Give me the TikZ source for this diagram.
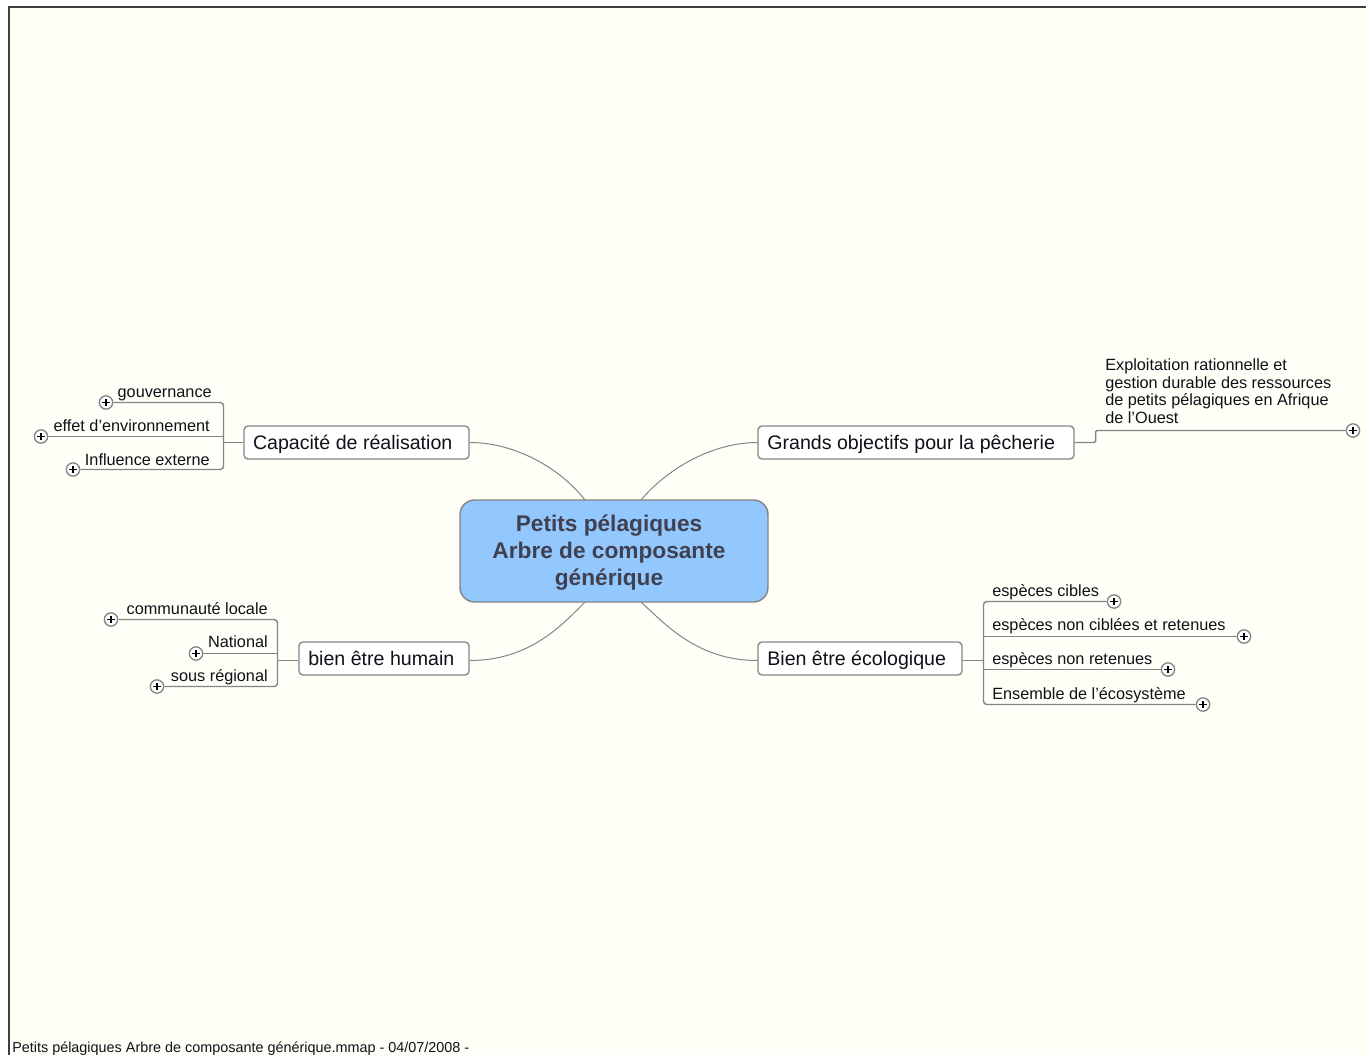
\documentclass[tikz,border=0pt]{standalone}
\usepackage{fontspec}
\setmainfont{Liberation Sans}
\definecolor{paper}{HTML}{FFFFF8}
\definecolor{framec}{HTML}{404040}
\definecolor{linkc}{HTML}{858585}
\definecolor{hubfill}{HTML}{93C8FF}
\definecolor{hubtext}{HTML}{404050}
\definecolor{inkc}{HTML}{101018}
\tikzset{
  x=0.75pt,y=-0.75pt,
  hubbox/.style={draw=linkc,line width=1.1pt,fill=hubfill,rounded corners=11pt,text=hubtext,
    minimum width=231pt,minimum height=76.5pt,inner sep=0pt,
    font=\fontsize{17}{20.6}\selectfont\bfseries},
  branchbox/.style={draw=linkc,line width=1pt,fill=white,rounded corners=3pt,text=inkc,
    minimum height=24.75pt,inner ysep=0pt,inner xsep=0pt,text height=13.4pt,text depth=3pt,
    font=\fontsize{14.7}{17}\selectfont},
  leaftext/.style={inner sep=0pt,text=inkc,font=\fontsize{12.2}{13.4}\selectfont},
  lnk/.style={draw=linkc,line width=1.1pt,rounded corners=2.5pt},
  curvelnk/.style={draw=linkc,line width=0.75pt},
  plusnode/.style={circle,draw=linkc,line width=1pt,fill=white,minimum size=10pt,inner sep=0pt,
    path picture={\draw[black,line width=1pt]
      ([xshift=-2.8pt]path picture bounding box.center)--([xshift=2.8pt]path picture bounding box.center)
      ([yshift=-2.8pt]path picture bounding box.center)--([yshift=2.8pt]path picture bounding box.center);}},
}
\begin{document}
\begin{tikzpicture}
\useasboundingbox (0,0) rectangle (1366,1055);
\fill[white] (0,0) rectangle (1366,1055);
\fill[paper] (9,7) rectangle (1366,1055);
\draw[framec,line width=1.5pt] (9,1055) -- (9,7) -- (1366,7);

% hub
\node[hubbox] (hub) at (614,551) {\begin{tabular}{@{}c@{}}\rule{0pt}{17.4pt}Petits pélagiques\\Arbre de composante\\générique\end{tabular}\hspace*{7.5pt}};

% branches
\node[branchbox,minimum width=168.75pt] (cap) at (356.5,442.5) {\makebox[168.75pt][l]{\hspace{6.75pt}Capacité de réalisation}};
\node[branchbox,minimum width=237pt] (obj) at (916,442.5) {\makebox[237pt][l]{\hspace{7pt}Grands objectifs pour la pêcherie}};
\node[branchbox,minimum width=127.5pt] (hum) at (384,658.5) {\makebox[127.5pt][l]{\hspace{7pt}bien être humain}};
\node[branchbox,minimum width=153pt] (eco) at (860,658.5) {\makebox[153pt][l]{\hspace{7pt}Bien être écologique}};

% hub connectors
\coordinate (hubNW) at (585,500);
\coordinate (hubNE) at (641,500);
\coordinate (hubSW) at (585,602);
\coordinate (hubSE) at (641,602);
\draw[curvelnk] (cap.east) .. controls (515,442.5) and (560,468) .. (hubNW);
\draw[curvelnk] (obj.west) .. controls (713,442.5) and (668,468) .. (hubNE);
\draw[curvelnk] (hum.east |- 0,660.5) .. controls (530,660.5) and (562,625) .. (hubSW);
\draw[curvelnk] (eco.west |- 0,660.5) .. controls (698,660.5) and (666,625) .. (hubSE);

% Capacité leaves
\node[leaftext,anchor=base east] (gouv) at (212,397) {gouvernance};
\node[leaftext,anchor=base east] (effet) at (210,431) {effet d'environnement};
\node[leaftext,anchor=base east] (infl) at (210,465) {Influence externe};
\node[plusnode] (pgouv) at (106,402.5) {};
\node[plusnode] (peffet) at (41,436.5) {};
\node[plusnode] (pinfl) at (73,469.5) {};
\coordinate (capj) at (223.5,442.5);
\draw[lnk] (pgouv.east) -- (223.5,402.5) -- (223.5,469.5) -- (pinfl.east);
\draw[lnk] (peffet.east) -- (223.5,436.5);
\draw[lnk] (cap.west) -- (capj);

% humain leaves
\node[leaftext,anchor=base east] (comm) at (268,614) {communauté locale};
\node[leaftext,anchor=base east] (nat) at (268,647) {National};
\node[leaftext,anchor=base east] (sous) at (268,681) {sous régional};
\node[plusnode] (pcomm) at (111,619.5) {};
\node[plusnode] (pnat) at (196,653.5) {};
\node[plusnode] (psous) at (157,686.5) {};
\coordinate (humj) at (277.5,660.5);
\draw[lnk] (pcomm.east) -- (277.5,619.5) -- (277.5,686.5) -- (psous.east);
\draw[lnk] (pnat.east) -- (277.5,653.5);
\draw[lnk] (hum.west |- humj) -- (humj);

% objectifs leaf
\node[leaftext,anchor=base west,align=left] (expl) at (1105,370) {Exploitation rationnelle et};
\node[leaftext,anchor=base west] (expl2) at (1105,388) {gestion durable des ressources};
\node[leaftext,anchor=base west] (expl3) at (1105,405.5) {de petits pélagiques en Afrique};
\node[leaftext,anchor=base west] (expl4) at (1105,423) {de l'Ouest};
\node[plusnode] (pexpl) at (1353,430.5) {};
\draw[lnk,rounded corners=1pt] (obj.east) -- (1095.5,442.5) -- (1095.5,430.5) -- (pexpl.west);

% écologique leaves
\node[leaftext,anchor=base west] (cib) at (992,596) {espèces cibles};
\node[leaftext,anchor=base west] (nonc) at (992,630) {espèces non ciblées et retenues};
\node[leaftext,anchor=base west] (nonr) at (992,664) {espèces non retenues};
\node[leaftext,anchor=base west] (ens) at (992,699) {Ensemble de l'écosystème};
\node[plusnode] (pcib) at (1114,601.5) {};
\node[plusnode] (pnonc) at (1244,636.5) {};
\node[plusnode] (pnonr) at (1168,669.5) {};
\node[plusnode] (pens) at (1203,704.5) {};
\coordinate (ecoj) at (983.5,660.5);
\draw[lnk] (pcib.west) -- (983.5,601.5) -- (983.5,704.5) -- (pens.west);
\draw[lnk] (pnonc.west) -- (983.5,636.5);
\draw[lnk] (pnonr.west) -- (983.5,669.5);
\draw[lnk] (eco.east |- ecoj) -- (ecoj);

% footer
\node[inner sep=0pt,anchor=base west,text=inkc,font=\fontsize{10.8}{12}\selectfont] (foot) at (12,1052) {Petits pélagiques Arbre de composante générique.mmap - 04/07/2008 -};
\end{tikzpicture}
\end{document}
